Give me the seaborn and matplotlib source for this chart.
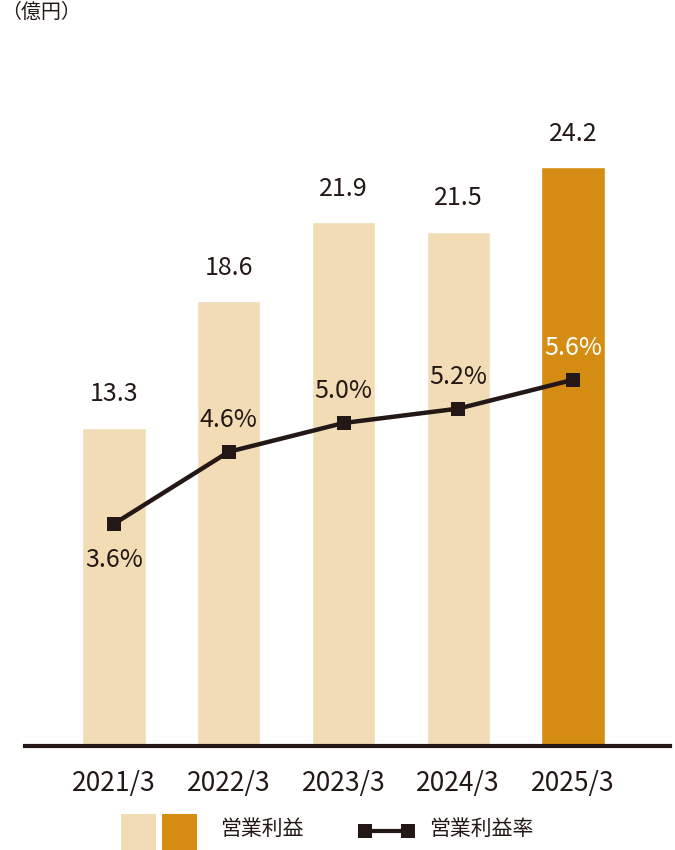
import matplotlib
matplotlib.use('Agg')
import matplotlib.pyplot as plt
import seaborn as sns
import pandas as pd
from matplotlib.patches import Rectangle
from matplotlib.lines import Line2D

# ---- data ----
years = ['2021/3', '2022/3', '2023/3', '2024/3', '2025/3']
profit = [13.3, 18.6, 21.9, 21.5, 24.2]
margin = [3.6, 4.6, 5.0, 5.2, 5.6]
profit_labels = ['13.3', '18.6', '21.9', '21.5', '24.2']
margin_labels = ['3.6%', '4.6%', '5.0%', '5.2%', '5.6%']
unit_label = '（億円）'
legend_bar = '営業利益'
legend_line = '営業利益率'

LIGHT = '#F2DCB6'
DARK = '#D48C12'
INK = '#231815'

sns.set_theme(style='white')
plt.rcParams['font.family'] = ['Noto Sans CJK JP', 'DejaVu Sans']

df = pd.DataFrame({'year': years, 'profit': profit, 'margin': margin})
df['pos'] = range(len(df))

W, H = 675, 850
fig = plt.figure(figsize=(W / 100, H / 100), dpi=100)
ax = fig.add_axes([25 / W, 1 - 746 / H, 645 / W, 666 / H])

bar_colors = [LIGHT] * (len(years) - 1) + [DARK]
sns.barplot(data=df, x='year', y='profit', hue='year', palette=bar_colors,
            width=0.55, saturation=1, legend=False, ax=ax)
ax.set_xlim(-0.7756, 4.845)
ax.set_ylim(0, 27.84)

ax2 = ax.twinx()
sns.lineplot(data=df, x='pos', y='margin', ax=ax2, color=INK, lw=3.2,
             marker='s', markersize=10, markeredgewidth=0, zorder=5)
ax2.set_ylim(0.514, 9.764)
ax2.set_xlim(-0.7756, 4.845)

for i, (v, lbl) in enumerate(zip(profit, profit_labels)):
    ax.annotate(lbl, (i, v), xytext=(0, 24), textcoords='offset points',
                ha='center', va='center', fontsize=18, color=INK)

for i, (v, lbl) in enumerate(zip(margin, margin_labels)):
    off = -26 if i == 0 else 23
    col = 'white' if i == len(margin) - 1 else INK
    ax2.annotate(lbl, (i, v), xytext=(0, off), textcoords='offset points',
                 ha='center', va='center', fontsize=18, color=col)

ax.set_xticks(range(len(years)))
ax.set_xticklabels(years, fontsize=19, color=INK)
ax.tick_params(axis='x', length=0, pad=17)
ax.set_yticks([])
ax2.set_yticks([])
ax.set_xlabel('')
ax.set_ylabel('')
ax2.set_xlabel('')
ax2.set_ylabel('')
for s in ['top', 'left', 'right']:
    ax.spines[s].set_visible(False)
ax.spines['bottom'].set_linewidth(3)
ax.spines['bottom'].set_color(INK)
for s in ax2.spines.values():
    s.set_visible(False)

# unit label
fig.text(1 / W, 1 - 2 / H, unit_label, fontsize=14.4, color=INK,
         ha='left', va='top')

# legend
fig.add_artist(Rectangle((121 / W, 0), 35 / W, 36 / H, transform=fig.transFigure,
                         facecolor=LIGHT, edgecolor='none'))
fig.add_artist(Rectangle((162 / W, 0), 35 / W, 36 / H, transform=fig.transFigure,
                         facecolor=DARK, edgecolor='none'))
fig.text(220 / W, 1 - 829 / H, legend_bar, fontsize=15, color=INK,
         ha='left', va='center')
fig.add_artist(Line2D([365 / W, 408 / W], [1 - 831 / H] * 2, transform=fig.transFigure,
                      color=INK, lw=3, marker='s', markersize=10, markeredgewidth=0))
fig.text(429 / W, 1 - 829 / H, legend_line, fontsize=15, color=INK,
         ha='left', va='center')

fig.savefig('out.png', dpi=100)
